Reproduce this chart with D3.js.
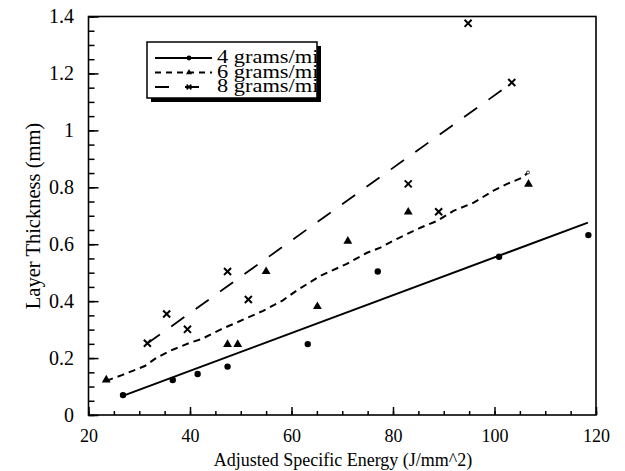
<!DOCTYPE html>
<html>
<head>
<meta charset="utf-8">
<script src="https://cdn.jsdelivr.net/npm/d3@7"></script>
<style>
    body { margin: 0; background: #fff; }
    text { font-family: "Liberation Serif", "Times New Roman", serif; fill: #000; }
</style>
</head>
<body>
<div id="chart"></div>
<script>
// 4 grams/min (filled circles)
const energy4 = [26.8, 36.6, 41.5, 47.4, 63.2, 77.0, 100.9, 118.5];
const thick4 = [0.070, 0.123, 0.144, 0.170, 0.249, 0.504, 0.556, 0.632];

// 6 grams/min (triangles)
const energy6 = [23.5, 47.4, 49.4, 55.0, 65.1, 71.1, 83.0, 106.7];
const thick6 = [0.123, 0.248, 0.248, 0.504, 0.381, 0.611, 0.713, 0.811];

// 8 grams/min (crosses)
const energy8 = [31.6, 35.4, 39.5, 47.4, 51.5, 83.0, 89.0, 94.8, 103.4];
const thick8 = [0.252, 0.355, 0.301, 0.504, 0.406, 0.812, 0.714, 1.376, 1.168];

// trend lines as they are drawn in the figure
const fit4X = [26.9, 118.4];
const fit4Y = [0.068, 0.676];
const curve6X = [23.5, 26.7, 31.1, 33.4, 36.0, 40.0, 42.3, 46.2, 49.2, 54.4, 58.3, 61.0, 65.7,
    70.9, 74.9, 77.5, 80.8, 85.4, 88.7, 91.9, 95.9, 99.8, 102.5, 105.5, 106.6];
const curve6Y = [0.120, 0.141, 0.172, 0.201, 0.225, 0.254, 0.267, 0.302, 0.325, 0.366, 0.403, 0.437, 0.489,
    0.531, 0.570, 0.588, 0.619, 0.658, 0.682, 0.717, 0.746, 0.788, 0.812, 0.834, 0.852];
const fit8X = [31.5, 103.3];
const fit8Y = [0.25, 1.165];

const legendLabels = ["4 grams/min", "6 grams/min", "8 grams/min"];
const xTicks = [20, 40, 60, 80, 100, 120];
const yTicks = [0, 0.2, 0.4, 0.6, 0.8, 1, 1.2, 1.4];

const W = 625, H = 471;
const margin = {top: 16.5, right: 29, bottom: 56, left: 88.5};
const width = W - margin.left - margin.right;
const height = H - margin.top - margin.bottom;

const svg = d3.select("#chart").append("svg")
    .attr("width", W)
    .attr("height", H);

const g = svg.append("g")
    .attr("transform", "translate(" + margin.left + "," + margin.top + ")");

const x = d3.scaleLinear().domain([20, 120]).range([0, width]);
const y = d3.scaleLinear().domain([0, 1.4]).range([height, 0]);

// minor ticks (every 5 on x, every 0.05 on y)
g.append("g")
    .attr("transform", "translate(0," + height + ")")
    .call(d3.axisBottom(x).tickValues(d3.range(20, 121, 5)).tickSize(-4).tickFormat(""))
    .call(a => a.select(".domain").remove())
    .call(a => a.selectAll("line").attr("stroke-width", 1.5));

g.append("g")
    .call(d3.axisLeft(y).tickValues(d3.range(0, 1.401, 0.05)).tickSize(-6).tickFormat(""))
    .call(a => a.select(".domain").remove())
    .call(a => a.selectAll("line").attr("stroke-width", 1.5));

// major ticks + labels
g.append("g")
    .attr("transform", "translate(0," + height + ")")
    .call(d3.axisBottom(x).tickValues(xTicks).tickSize(-8).tickPadding(14).tickFormat(d3.format("d")))
    .call(a => a.select(".domain").remove())
    .call(a => a.selectAll("line").attr("stroke-width", 1.5))
    .call(a => a.selectAll("text").attr("font-size", 18).attr("font-family", null));

g.append("g")
    .call(d3.axisLeft(y).tickValues(yTicks).tickSize(-10).tickPadding(14.5).tickFormat(d => d3.format("")(d)))
    .call(a => a.select(".domain").remove())
    .call(a => a.selectAll("line").attr("stroke-width", 1.5))
    .call(a => a.selectAll("text").attr("font-size", 20).attr("font-family", null));

// frame
g.append("rect")
    .attr("width", width)
    .attr("height", height)
    .attr("fill", "none")
    .attr("stroke", "#000")
    .attr("stroke-width", 1.6);

// axis titles
svg.append("text")
    .attr("x", 343)
    .attr("y", 466)
    .attr("text-anchor", "middle")
    .attr("font-size", 18)
    .text("Adjusted Specific Energy (J/mm^2)");

svg.append("text")
    .attr("transform", "translate(40,216) rotate(-90)")
    .attr("text-anchor", "middle")
    .attr("font-size", 20.5)
    .text("Layer Thickness (mm)");

// lines
const line = d3.line().x(d => x(d[0])).y(d => y(d[1]));

g.append("path")
    .datum(d3.zip(fit4X, fit4Y))
    .attr("d", line)
    .attr("fill", "none")
    .attr("stroke", "#000")
    .attr("stroke-width", 2);

g.append("path")
    .datum(d3.zip(curve6X, curve6Y))
    .attr("d", line)
    .attr("fill", "none")
    .attr("stroke", "#000")
    .attr("stroke-width", 2)
    .attr("stroke-dasharray", "7,5");

g.append("path")
    .datum(d3.zip(fit8X, fit8Y))
    .attr("d", line)
    .attr("fill", "none")
    .attr("stroke", "#000")
    .attr("stroke-width", 1.8)
    .attr("stroke-dasharray", "16,14");

// small open mark at the end of the 6 g curve
g.append("circle")
    .attr("cx", x(curve6X[curve6X.length - 1]))
    .attr("cy", y(curve6Y[curve6Y.length - 1]))
    .attr("r", 1.5)
    .attr("fill", "#fff")
    .attr("stroke", "#000")
    .attr("stroke-width", 0.8);

// markers
const triangle = d3.symbol().type(d3.symbolTriangle).size(34);
const cross = d3.symbol().type(d3.symbolX).size(34);

g.selectAll(".dot4")
    .data(d3.zip(energy4, thick4))
    .enter().append("circle")
    .attr("class", "dot4")
    .attr("cx", d => x(d[0]))
    .attr("cy", d => y(d[1]))
    .attr("r", 3.2)
    .attr("fill", "#000");

g.selectAll(".tri6")
    .data(d3.zip(energy6, thick6))
    .enter().append("path")
    .attr("class", "tri6")
    .attr("d", triangle)
    .attr("transform", d => "translate(" + x(d[0]) + "," + y(d[1]) + ")")
    .attr("fill", "#000");

g.selectAll(".x8")
    .data(d3.zip(energy8, thick8))
    .enter().append("path")
    .attr("class", "x8")
    .attr("d", cross)
    .attr("transform", d => "translate(" + x(d[0]) + "," + y(d[1]) + ")")
    .attr("fill", "none")
    .attr("stroke", "#000")
    .attr("stroke-width", 2);

// legend
const legend = svg.append("g").attr("transform", "translate(147,42)");
const lw = 170, lh = 56;

legend.append("rect")
    .attr("x", 4).attr("y", 4)
    .attr("width", lw).attr("height", lh)
    .attr("fill", "#000");
legend.append("rect")
    .attr("width", lw).attr("height", lh)
    .attr("fill", "#fff")
    .attr("stroke", "#000")
    .attr("stroke-width", 1.5);

svg.append("clipPath").attr("id", "legClip")
    .append("rect").attr("x", 0).attr("y", 0).attr("width", lw).attr("height", lh);

const legRows = [
    {dash: null, mark: "circle"},
    {dash: "6,5", mark: "tri"},
    {dash: "14,16", mark: "x"}
];
const rowY = [16, 30.5, 45];

const rows = legend.selectAll(".row")
    .data(legendLabels)
    .enter().append("g")
    .attr("class", "row")
    .attr("transform", (d, i) => "translate(0," + rowY[i] + ")");

rows.append("line")
    .attr("x1", 8).attr("x2", 65)
    .attr("stroke", "#000")
    .attr("stroke-width", 1.8)
    .attr("stroke-dasharray", (d, i) => legRows[i].dash);

rows.each(function(d, i) {
    const row = d3.select(this);
    if (legRows[i].mark === "circle") {
        row.append("circle").attr("cx", 42).attr("r", 2.4).attr("fill", "#000");
    } else if (legRows[i].mark === "tri") {
        row.append("path").attr("d", d3.symbol().type(d3.symbolTriangle).size(16))
            .attr("transform", "translate(42,0)").attr("fill", "#000");
    } else {
        row.append("path").attr("d", d3.symbol().type(d3.symbolX).size(16))
            .attr("transform", "translate(42,0)").attr("fill", "none")
            .attr("stroke", "#000").attr("stroke-width", 1.6);
    }
});

legend.append("g")
    .attr("clip-path", "url(#legClip)")
    .selectAll("text")
    .data(legendLabels)
    .enter().append("text")
    .attr("transform", (d, i) => "translate(70," + (rowY[i] + 5) + ") scale(1.18,1)")
    .attr("font-size", 19)
    .text(d => d);
</script>
</body>
</html>
